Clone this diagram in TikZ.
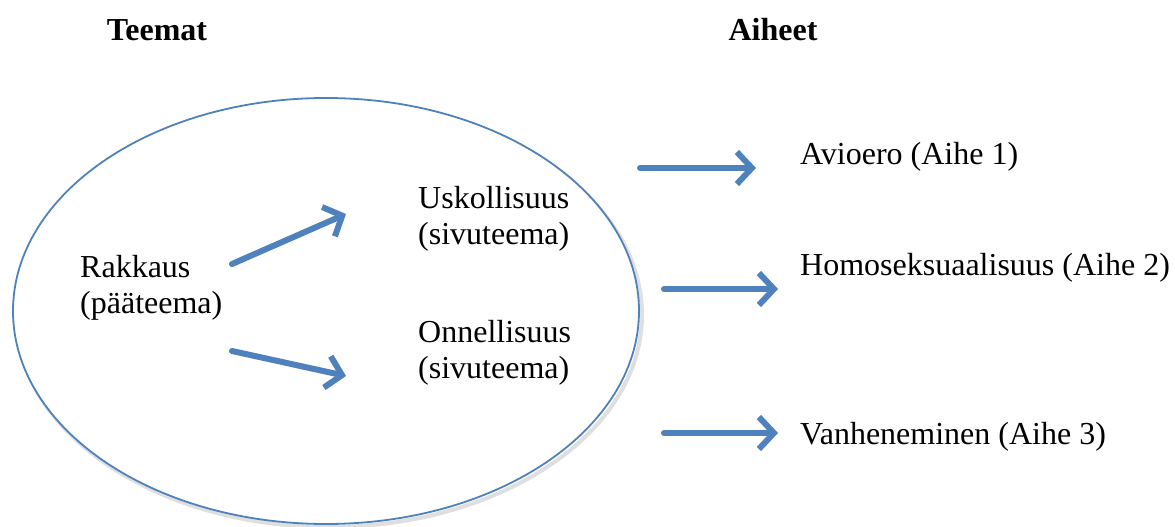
\documentclass[tikz,border=0pt]{standalone}
\usepackage{fontspec}
\setmainfont{Liberation Serif}
\usetikzlibrary{arrows.meta}
\definecolor{arrowblue}{RGB}{79,129,189}
\tikzset{
  txt/.style={anchor=west, align=left, inner sep=0pt, font=\fontsize{32}{36}\selectfont},
  title/.style={inner sep=0pt, font=\fontsize{32}{36}\selectfont\bfseries},
  barrow/.style={draw=arrowblue, line width=6pt, line cap=round, line join=round,
    -{Straight Barb[length=15pt,width=32pt,line width=6pt]}}
}
\begin{document}
\begin{tikzpicture}[x=1pt,y=-1pt]
\useasboundingbox (0,0) rectangle (1175,527);
\draw[gray!25, line width=4pt] (329,315) ellipse [x radius=313pt, y radius=212pt];
\draw[arrowblue, line width=1.8pt, fill=white] (326,311) ellipse [x radius=313pt, y radius=213pt];
\node[title] (t1) at (157,30) {Teemat};
\node[title] (t2) at (773,30) {Aiheet};
\node[txt] (rak) at (80,288) {Rakkaus\\(pääteema)};
\node[txt] (usk) at (418,219) {Uskollisuus\\(sivuteema)};
\node[txt] (onn) at (418,353) {Onnellisuus\\(sivuteema)};
\node[txt] (a1) at (800,157) {Avioero (Aihe 1)};
\node[txt] (a2) at (800,268) {Homoseksuaalisuus (Aihe 2)};
\node[txt] (a3) at (800,437) {Vanheneminen (Aihe 3)};
\coordinate (u0) at (232,264);
\coordinate (u1) at (346,214);
\coordinate (o0) at (232,351);
\coordinate (o1) at (346,376);
\coordinate (r1s) at (640,168);
\coordinate (r1e) at (756,168);
\coordinate (r2s) at (664,289);
\coordinate (r2e) at (778,289);
\coordinate (r3s) at (664,433);
\coordinate (r3e) at (778,433);
\draw[barrow] (u0) -- (u1);
\draw[barrow] (o0) -- (o1);
\draw[barrow] (r1s) -- (r1e);
\draw[barrow] (r2s) -- (r2e);
\draw[barrow] (r3s) -- (r3e);
\end{tikzpicture}
\end{document}
